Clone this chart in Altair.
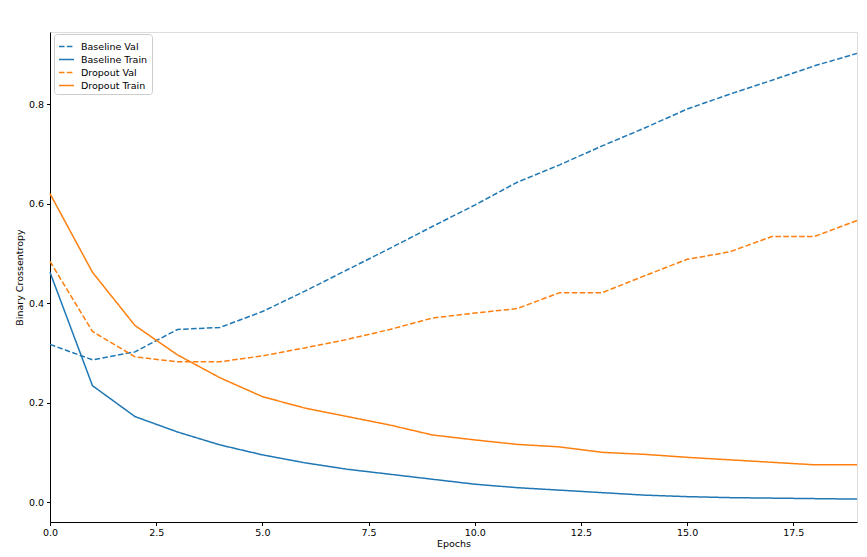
import altair as alt
import pandas as pd

epochs = list(range(20))
baseline_val = [0.317, 0.286, 0.302, 0.347, 0.351, 0.383, 0.424, 0.467, 0.510, 0.554, 0.597, 0.643,
                0.678, 0.716, 0.752, 0.790, 0.820, 0.848, 0.877, 0.902]
baseline_train = [0.462, 0.234, 0.172, 0.141, 0.115, 0.095, 0.079, 0.066, 0.056, 0.046, 0.036, 0.029,
                  0.024, 0.019, 0.014, 0.011, 0.009, 0.008, 0.007, 0.006]
dropout_val = [0.484, 0.343, 0.292, 0.282, 0.282, 0.294, 0.310, 0.327, 0.347, 0.370, 0.380, 0.389,
               0.421, 0.421, 0.455, 0.488, 0.503, 0.534, 0.534, 0.566]
dropout_train = [0.620, 0.462, 0.355, 0.296, 0.250, 0.212, 0.189, 0.172, 0.155, 0.135, 0.125, 0.116,
                 0.111, 0.100, 0.096, 0.090, 0.085, 0.080, 0.075, 0.075]

series_names = ["Baseline Val", "Baseline Train", "Dropout Val", "Dropout Train"]
series_values = [baseline_val, baseline_train, dropout_val, dropout_train]
series_colors = ["#1f77b4", "#1f77b4", "#ff7f0e", "#ff7f0e"]
series_dash = [[5.5, 2.4], [1, 0], [5.5, 2.4], [1, 0]]

rows = []
for name, vals in zip(series_names, series_values):
    for e, v in zip(epochs, vals):
        rows.append({"epoch": e, "value": v, "series": name})
df = pd.DataFrame(rows)

font = "DejaVu Sans"
fs = 9.5

chart = alt.Chart(df).mark_line(strokeWidth=1.5).encode(
    x=alt.X("epoch:Q", title="Epochs",
            scale=alt.Scale(domain=[0, 19], nice=False, zero=False),
            axis=alt.Axis(values=[0, 2.5, 5, 7.5, 10, 12.5, 15, 17.5], format=".1f",
                          grid=False, tickColor="#000", tickSize=3.5, domainColor="#000",
                          labelColor="#000", labelFontSize=fs, labelFont=font, labelFlush=False,
                          titleFont=font, titleFontSize=fs, titleFontWeight="normal",
                          titleColor="#000", labelPadding=2, titlePadding=1)),
    y=alt.Y("value:Q", title="Binary Crossentropy",
            scale=alt.Scale(domain=[-0.04, 0.945], nice=False, zero=False),
            axis=alt.Axis(values=[0, 0.2, 0.4, 0.6, 0.8], format=".1f",
                          grid=False, tickColor="#000", tickSize=3.5, domainColor="#000",
                          labelColor="#000", labelFontSize=fs, labelFont=font, labelFlush=False,
                          titleFont=font, titleFontSize=fs, titleFontWeight="normal",
                          titleColor="#000", labelPadding=3, titlePadding=4)),
    color=alt.Color("series:N", title=None,
                    scale=alt.Scale(domain=series_names, range=series_colors),
                    legend=alt.Legend(orient="none", legendX=4, legendY=2,
                                      symbolType="stroke", symbolSize=225, symbolStrokeWidth=1.5,
                                      labelFontSize=fs, labelFont=font, labelColor="#000",
                                      fillColor="white", strokeColor="#cccccc", padding=4,
                                      cornerRadius=3, rowPadding=0, labelOffset=6)),
    strokeDash=alt.StrokeDash("series:N", title=None,
                              scale=alt.Scale(domain=series_names, range=series_dash)),
    detail="series:N",
).properties(
    width=807, height=490,
    autosize=alt.AutoSizeParams(type="none"),
    padding={"left": 42, "top": 24, "right": 2, "bottom": 27},
).configure_view(
    stroke="#000", strokeWidth=1
).configure(background="white")

chart.save("out.html", embed_options={"renderer": "svg", "actions": False})
